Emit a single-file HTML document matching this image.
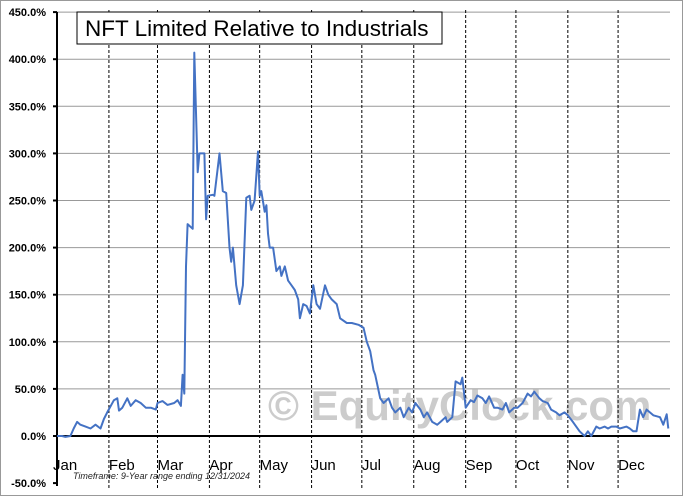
<!DOCTYPE html>
<html><head><meta charset="utf-8"><style>
body{margin:0;background:#fff;}
svg{display:block;font-family:"Liberation Sans",sans-serif;}
</style></head><body>
<svg id="c" width="683" height="496"></svg>
<script>
const days=[0,3,5,8,10,12,14,17,20,23,26,28,30,34,36,37,39,42,44,47,50,53,56,59,60,63,66,70,72,74,75,76,77,78,81,82,84,85,88,89,90,93,94,97,99,101,103,104,105,107,109,111,113,115,116,118,120,121,122,124,125,126,127,129,131,133,134,136,138,140,142,144,145,147,149,151,153,155,157,160,162,164,167,169,173,176,180,183,185,187,189,190,193,195,198,200,202,205,207,210,212,214,217,219,221,224,227,229,232,233,236,238,241,242,244,247,249,251,254,256,258,261,263,266,268,270,273,275,278,281,283,285,288,290,293,295,298,300,303,305,308,310,312,315,317,319,322,324,327,329,331,334,336,340,342,344,346,348,350,352,354,356,360,362,364,365];
const values=[0,0,-1,0,8,15,12,10,8,12,8,18,25,38,40,27,30,40,32,38,35,30,30,28,35,37,33,35,38,32,65,45,180,225,220,407,280,300,300,230,255,256,255,300,260,258,200,185,200,160,140,160,253,255,240,250,302,255,260,238,245,215,200,200,175,180,170,180,165,160,155,145,125,140,138,130,160,140,135,160,150,145,140,125,120,120,118,115,100,90,70,65,40,35,40,30,25,30,20,30,25,35,28,20,25,15,12,15,20,15,20,58,55,62,30,38,36,43,40,35,42,30,30,28,35,25,30,30,35,45,42,47,40,37,35,28,25,22,25,22,15,10,5,0,5,0,10,8,10,8,10,10,8,10,8,5,5,28,20,28,25,22,20,12,23,8];
const yTicks=[450,400,350,300,250,200,150,100,50,0,-50];
const months=["Jan","Feb","Mar","Apr","May","Jun","Jul","Aug","Sep","Oct","Nov","Dec"];
const monthStart=[0,31,60,91,121,152,182,213,244,274,305,335];
const NS="http://www.w3.org/2000/svg";
const svg=document.getElementById('c');
const X0=57,X1=670,Y0=436,PX=0.942;
const xs=d=>X0+d*(X1-X0)/366;
const ys=v=>Y0-v*PX;
function mk(t,a,p){const e=document.createElementNS(NS,t);for(const k in a)e.setAttribute(k,a[k]);(p||svg).appendChild(e);return e;}
mk('rect',{x:0.5,y:0.5,width:682,height:495,fill:'#fff',stroke:'#999'});
let wm=mk('text',{x:268,y:420,'font-size':42,'font-weight':'bold',fill:'#cccccc'});
wm.textContent='© EquityClock.com';


yTicks.forEach(v=>{
  if(v!==0&&v!==-50){let l=mk('line',{x1:X0,x2:X1,y1:ys(v),y2:ys(v),stroke:'#999','stroke-width':1});
  
  }
  let t=mk('text',{x:46,y:ys(v)+4,'font-size':11,'font-weight':'bold','text-anchor':'end',fill:'#000'});
  t.textContent=v.toFixed(1)+'%';
  
  
  mk('line',{x1:X0-4,x2:X0,y1:ys(v),y2:ys(v),stroke:'#000','stroke-width':2});
});
months.forEach((m,i)=>{
  if(i>0){let l=mk('line',{x1:xs(monthStart[i]),x2:xs(monthStart[i]),y1:10,y2:490,stroke:'#000','stroke-width':1,'stroke-dasharray':'3,2'});
  
  }
  let t=mk('text',{x:xs(monthStart[i])+(i==0?-4:0),y:470,'font-size':15,fill:'#000'});
  t.textContent=m;
  
  
});
mk('line',{x1:X0,x2:X1,y1:Y0,y2:Y0,stroke:'#000','stroke-width':2});
mk('line',{x1:X0,x2:X0,y1:12,y2:486,stroke:'#000','stroke-width':2});
let tf=mk('text',{x:73,y:479,'font-size':9,'font-style':'italic',fill:'#222'});
tf.textContent='Timeframe: 9-Year range ending 12/31/2024';


let pts=days.map((d,i)=>xs(d).toFixed(1)+','+ys(values[i]).toFixed(1)).join(' ');
let pl=mk('polyline',{points:pts,fill:'none',stroke:'#4472c4','stroke-width':2,'stroke-linejoin':'round'});


let tb=mk('rect',{x:77,y:12,width:365,height:32,fill:'#fff',stroke:'#000'});


let tt=mk('text',{x:85,y:36,'font-size':22.5,fill:'#000'});
tt.textContent='NFT Limited Relative to Industrials';


</script>
</body></html>
